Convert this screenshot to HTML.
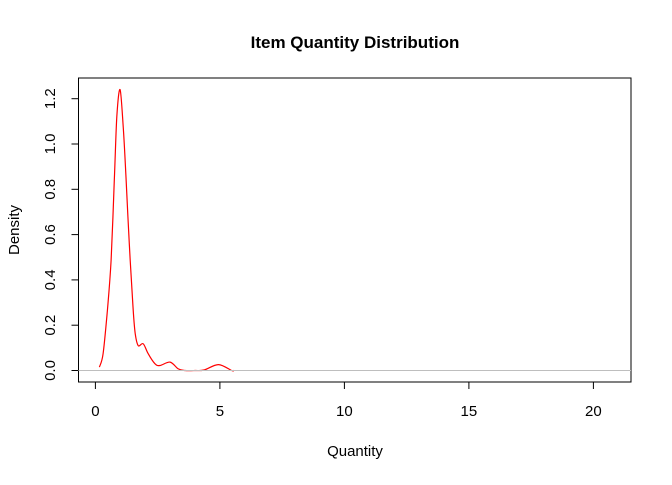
<!DOCTYPE html>
<html><head><meta charset="utf-8"><style>body{margin:0;background:#fff}svg{font-family:"Liberation Sans",Arial,sans-serif}</style></head>
<body>
<svg width="672" height="480" viewBox="0 0 672 480">
<text x="355" y="48" text-anchor="middle" font-weight="bold" font-size="17">Item Quantity Distribution</text>
<rect x="78.5" y="78" width="552.5" height="304" fill="none" stroke="#000"/>
<g id="xaxis"></g>
<g id="yaxis"></g>
<path id="curve" fill="none" stroke="#f00" stroke-width="1.2"/>
<line x1="78.5" x2="631" y1="370.5" y2="370.5" stroke="#bebebe"/>
<text x="355" y="456" text-anchor="middle" font-size="15">Quantity</text>
<text transform="translate(19,230) rotate(-90)" text-anchor="middle" font-size="15">Density</text>
</svg>
<script>
const xTicks=[0,5,10,15,20];
const yTicks=[0.0,0.2,0.4,0.6,0.8,1.0,1.2];
const curveX=[0.16,0.31,0.48,0.63,0.76,0.86,0.99,1.12,1.23,1.36,1.50,1.60,1.72,1.92,2.12,2.39,2.59,3.0,3.33,3.6,4.0,4.36,4.94,5.47,5.55];
const curveY=[0.015,0.074,0.265,0.486,0.84,1.12,1.24,1.07,0.853,0.56,0.295,0.163,0.11,0.118,0.074,0.03,0.022,0.037,0.007,0.0,0.0,0.002,0.026,0.0,0.0];
const X=v=>95.4+24.9*v, Y=v=>370.5-226.5*v;
const ns='http://www.w3.org/2000/svg';
const xa=document.getElementById('xaxis'), ya=document.getElementById('yaxis');
function mk(t,a,p){const e=document.createElementNS(ns,t);for(const k in a)e.setAttribute(k,a[k]);p.appendChild(e);return e;}
xTicks.forEach(v=>{
 const l=mk('line',{x1:X(v),x2:X(v),y1:382,y2:389,stroke:'#000'},xa);
 
 
 const t=mk('text',{x:X(v),y:416,'text-anchor':'middle','font-size':'15'},xa);t.textContent=v;
 
 
});
yTicks.forEach(v=>{
 const l=mk('line',{x1:71.5,x2:78.5,y1:Y(v),y2:Y(v),stroke:'#000'},ya);
 
 
 const t=mk('text',{transform:`translate(55,${Y(v)}) rotate(-90)`,'text-anchor':'middle','font-size':'15'},ya);t.textContent=v.toFixed(1);
 
 
});
// Catmull-Rom smoothing through data points
const P=curveX.map((x,i)=>[X(x),Y(curveY[i])]);
let d='M'+P[0][0].toFixed(1)+','+P[0][1].toFixed(1);
for(let i=0;i<P.length-1;i++){
 const p0=P[i-1]||P[i],p1=P[i],p2=P[i+1],p3=P[i+2]||P[i+1];
 const c1=[p1[0]+(p2[0]-p0[0])/6,p1[1]+(p2[1]-p0[1])/6];
 const c2=[p2[0]-(p3[0]-p1[0])/6,p2[1]-(p3[1]-p1[1])/6];
 d+=`C${c1[0].toFixed(1)},${c1[1].toFixed(1)} ${c2[0].toFixed(1)},${c2[1].toFixed(1)} ${p2[0].toFixed(1)},${p2[1].toFixed(1)}`;
}
document.getElementById('curve').setAttribute('d',d);
</script>
</body></html>
